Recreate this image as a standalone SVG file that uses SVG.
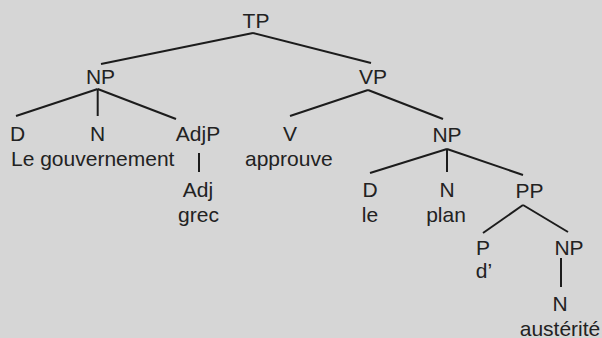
<svg xmlns="http://www.w3.org/2000/svg" width="602" height="338" viewBox="0 0 602 338">
  <style>
    .bg { fill: #d6d6d6; }
    .lbl { font-family: "Liberation Sans", Arial, Helvetica, sans-serif; font-size: 21px; fill: #222222; }
    .c { text-anchor: middle; }
    .edge { stroke: #1c1c1c; stroke-width: 2; stroke-linecap: butt; fill: none; }
  </style>
  <rect class="bg" x="0" y="0" width="602" height="338"/>

  <!-- branches of the syntax tree -->
  <g id="connectors">
    <line class="edge" x1="253" y1="33" x2="101" y2="64"/>
    <line class="edge" x1="253" y1="33" x2="371" y2="63"/>
    <line class="edge" x1="97.7" y1="89" x2="16" y2="116"/>
    <line class="edge" x1="97.7" y1="89" x2="97.7" y2="116"/>
    <line class="edge" x1="97.7" y1="89" x2="176" y2="119"/>
    <line class="edge" x1="199" y1="153" x2="199" y2="172"/>
    <line class="edge" x1="368" y1="90" x2="290" y2="116"/>
    <line class="edge" x1="368" y1="90" x2="443" y2="119"/>
    <line class="edge" x1="447" y1="149" x2="370" y2="173"/>
    <line class="edge" x1="447" y1="149" x2="447" y2="172"/>
    <line class="edge" x1="447" y1="149" x2="523" y2="175"/>
    <line class="edge" x1="523" y1="205" x2="483" y2="233"/>
    <line class="edge" x1="523" y1="205" x2="568" y2="232"/>
    <line class="edge" x1="561" y1="258" x2="561" y2="287"/>
  </g>

  <g id="tp"><text class="lbl c" x="256" y="27.5">TP</text></g>
  <g id="np-subject"><text class="lbl c" x="100.5" y="84">NP</text></g>
  <g id="vp"><text class="lbl c" x="373" y="84">VP</text></g>

  <g id="d-subject">
    <text class="lbl c" x="17.5" y="140.5">D</text>
  </g>
  <g id="n-subject">
    <text class="lbl c" x="97.5" y="140.5">N</text>
  </g>
  <g id="words-subject">
    <text class="lbl" x="11" y="165.5">Le gouvernement</text>
  </g>
  <g id="adjp"><text class="lbl c" x="198" y="140.5">AdjP</text></g>
  <g id="adj">
    <text class="lbl c" x="198" y="196.7">Adj</text>
    <text class="lbl c" x="198.5" y="221.7">grec</text>
  </g>

  <g id="v">
    <text class="lbl c" x="290" y="140.5">V</text>
    <text class="lbl" x="245" y="165.5">approuve</text>
  </g>

  <g id="np-object"><text class="lbl c" x="447" y="142">NP</text></g>
  <g id="d-object">
    <text class="lbl c" x="370" y="196.7">D</text>
    <text class="lbl c" x="370" y="221.7">le</text>
  </g>
  <g id="n-object">
    <text class="lbl c" x="447" y="196.7">N</text>
    <text class="lbl c" x="446" y="221.7">plan</text>
  </g>
  <g id="pp"><text class="lbl c" x="529.6" y="197.5">PP</text></g>
  <g id="p">
    <text class="lbl c" x="483" y="255">P</text>
    <text class="lbl c" x="484" y="278">d’</text>
  </g>
  <g id="np-pp"><text class="lbl c" x="569" y="255">NP</text></g>
  <g id="n-pp">
    <text class="lbl c" x="560" y="310.5">N</text>
    <text class="lbl c" x="560" y="335.5">austérité</text>
  </g>
</svg>
